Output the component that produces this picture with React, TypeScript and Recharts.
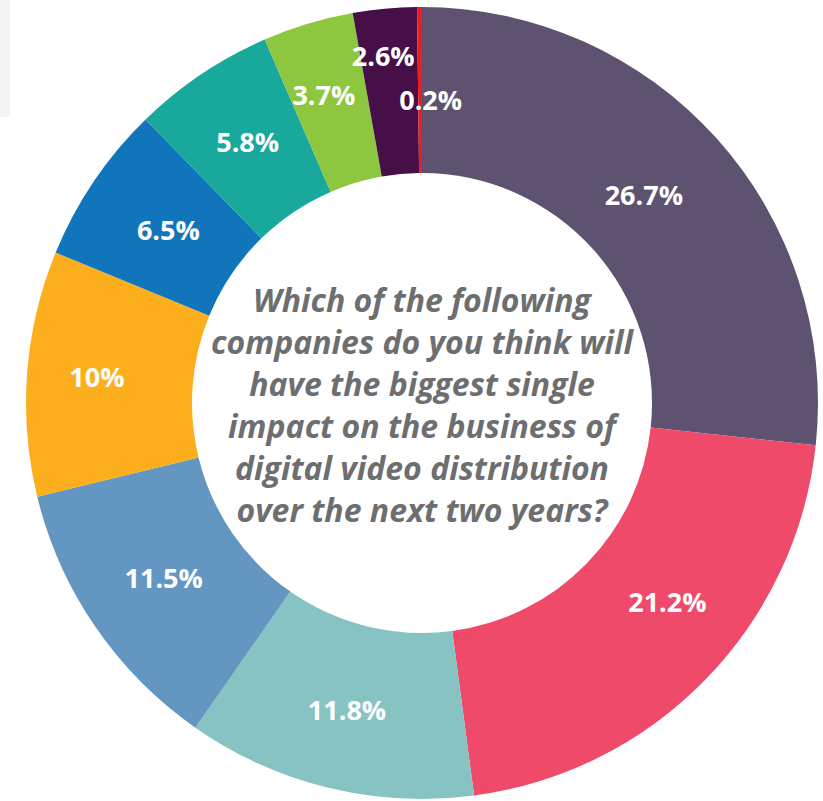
import React from 'react';
import { PieChart, Pie, Cell, Label } from 'recharts';

const categories = ['A', 'B', 'C', 'D', 'E', 'F', 'G', 'H', 'I', 'J'];
const values = [26.7, 21.2, 11.8, 11.5, 10, 6.5, 5.8, 3.7, 2.6, 0.2];
const colors = ['#5d5371', '#ef4a69', '#86c3c2', '#6396c1', '#fcae1d', '#1175bb', '#18a89c', '#8dc63f', '#460f47', '#ed1c24'];
const questionLines = [
  'Which of the following',
  'companies do you think will',
  'have the biggest single',
  'impact on the business of',
  'digital video distribution',
  'over the next two years?',
];

const data = categories.map((name, i) => ({ name, value: values[i] }));

const RAD = Math.PI / 180;
// label placement tweaks (radial offset px, angle offset deg clockwise)
const tweaks: Record<number, { dr: number; da: number }> = {
  0: { dr: -10, da: -1 },
  1: { dr: 4, da: -5 },
  2: { dr: 4, da: 0 },
  4: { dr: 13, da: 0 },
  5: { dr: -7, da: 0 },
  7: { dr: 9, da: -1 },
  8: { dr: 35, da: -1 },
  9: { dr: -11, da: 2 },
};

const renderLabel = (props: any) => {
  const { cx, cy, midAngle, innerRadius, outerRadius, index, value } = props;
  const t = tweaks[index] || { dr: 0, da: 0 };
  const r = (innerRadius + outerRadius) / 2 + t.dr;
  const a = (midAngle - t.da) * RAD;
  const x = cx + r * Math.cos(a);
  const y = cy - r * Math.sin(a) - 2;
  return (
    <text
      x={x}
      y={y}
      fill="#ffffff"
      textAnchor="middle"
      dominantBaseline="central"
      style={{ fontFamily: '"Open Sans", sans-serif', fontWeight: 700, fontSize: 27 }}
    >
      {`${value}%`}
    </text>
  );
};

const CenterText = (props: any) => {
  const vb = props.viewBox || {};
  const cx = vb.cx ?? 422;
  const cy = vb.cy ?? 403;
  const lh = 42;
  const firstBaseline = cy - 91;
  return (
    <text
      textAnchor="middle"
      fill="#6d6e70"
      style={{ fontFamily: '"Open Sans", sans-serif', fontWeight: 700, fontStyle: 'italic', fontSize: 32 }}
    >
      {questionLines.map((l, i) => (
        <tspan key={i} x={cx} y={firstBaseline + i * lh}>
          {l}
        </tspan>
      ))}
    </text>
  );
};

export default function App() {
  return (
    <div style={{ position: 'absolute', left: 0, top: 0, width: 823, height: 801, background: '#ffffff' }}>
      <div style={{ position: 'absolute', left: 0, top: 0, width: 10, height: 117, background: '#f4f4f4' }} />
      <div style={{ position: 'absolute', left: 0, top: 0 }}>
        <PieChart width={823} height={801} margin={{ top: 0, right: 0, bottom: 0, left: 0 }}>
          <Pie
            data={data}
            dataKey="value"
            nameKey="name"
            cx={422}
            cy={403}
            innerRadius={230}
            outerRadius={396}
            startAngle={90}
            endAngle={-270}
            stroke="none"
            labelLine={false}
            label={renderLabel}
            isAnimationActive={false}
          >
            {data.map((d, i) => (
              <Cell key={d.name} fill={colors[i]} />
            ))}
            <Label position="center" content={<CenterText />} />
          </Pie>
        </PieChart>
      </div>
    </div>
  );
}
